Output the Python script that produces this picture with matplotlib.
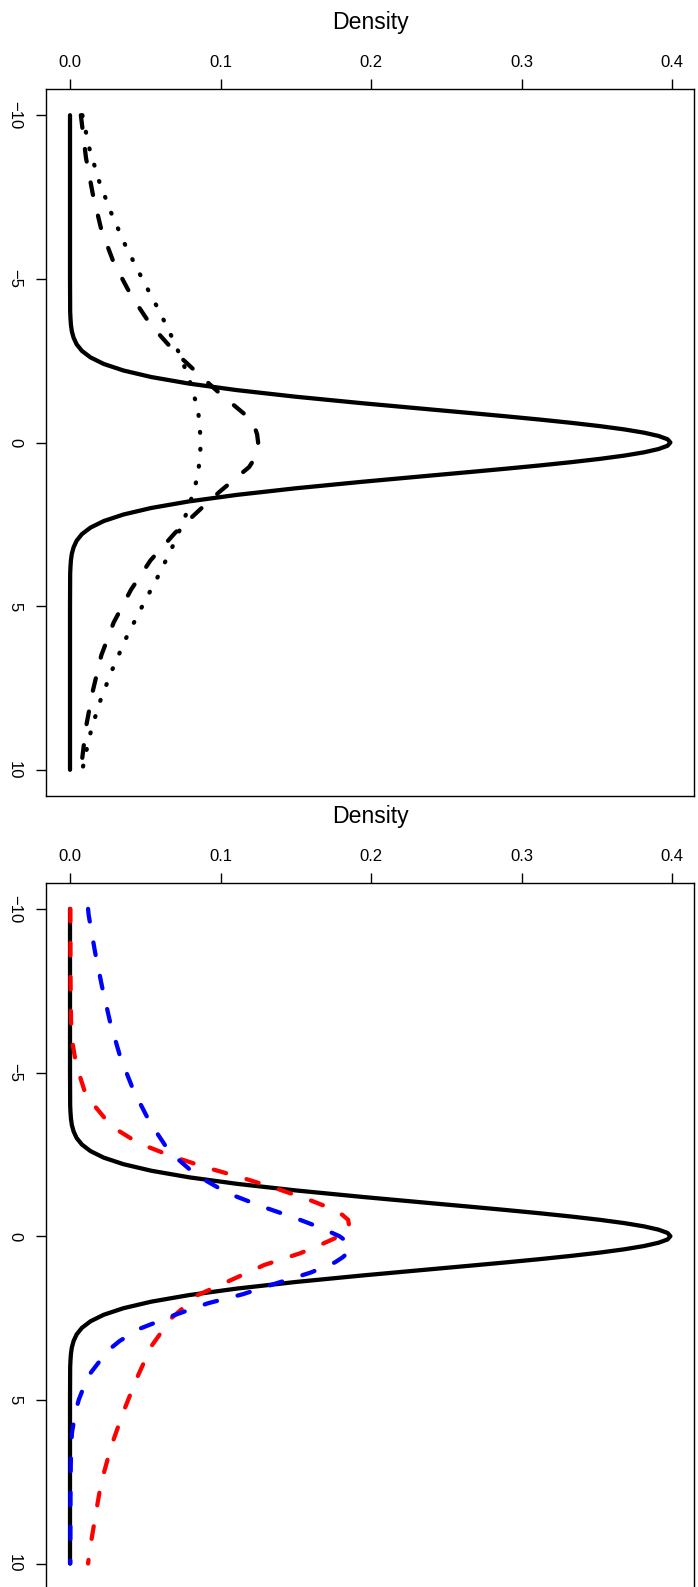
import matplotlib
matplotlib.use("Agg")
import matplotlib.pyplot as plt

plt.rcParams['font.family'] = ['Liberation Sans', 'DejaVu Sans']

# ---- densities, upper panel ----
norm_x = [-10, -5, -4.0, -3.8, -3.6, -3.4, -3.2, -3.0, -2.8, -2.6, -2.4, -2.2, -2.0,
          -1.8, -1.6, -1.4, -1.2, -1.0, -0.9, -0.8, -0.7, -0.6, -0.5, -0.4, -0.3,
          -0.2, -0.1, 0.0, 0.1, 0.2, 0.3, 0.4, 0.5, 0.6, 0.7, 0.8, 0.9, 1.0,
          1.2, 1.4, 1.6, 1.8, 2.0, 2.2, 2.4, 2.6, 2.8,
          3.0, 3.2, 3.4, 3.6, 3.8, 4.0, 5, 10]
norm_d = [0.0, 0.0, 0.0001, 0.0003, 0.0006, 0.0012, 0.0024, 0.0044, 0.0079, 0.0136,
          0.0224, 0.0355, 0.0540, 0.0790, 0.1109, 0.1497, 0.1942, 0.2420, 0.2661,
          0.2897, 0.3123, 0.3332, 0.3521, 0.3683, 0.3814, 0.3910, 0.3970, 0.3989,
          0.3970, 0.3910, 0.3814, 0.3683, 0.3521, 0.3332, 0.3123, 0.2897, 0.2661,
          0.2420, 0.1942, 0.1497, 0.1109, 0.0790,
          0.0540, 0.0355, 0.0224, 0.0136, 0.0079, 0.0044, 0.0024, 0.0012, 0.0006,
          0.0003, 0.0001, 0.0, 0.0]

dash_x = [-10, -8.7, -7.6, -6.5, -5.5, -4.5, -3.6, -2.75, -2.0, -1.5, -1.0, -0.75,
          -0.5, -0.25, 0.0, 0.25, 0.5, 0.75, 1.0, 1.5, 2.0, 2.75, 3.6, 4.5, 5.5,
          6.5, 7.6, 8.7, 10]
dash_d = [0.0072, 0.0106, 0.0151, 0.0208, 0.0290, 0.0405, 0.0535, 0.0700, 0.0875,
          0.0995, 0.1125, 0.1190, 0.1225, 0.1243, 0.1250, 0.1243, 0.1225, 0.1190,
          0.1125, 0.0995, 0.0875, 0.0700, 0.0535, 0.0405, 0.0290, 0.0208, 0.0151,
          0.0106, 0.0072]

dot_x = [-10, -9, -8, -7, -6, -5, -4, -3, -2, -1, 0, 1, 2, 3, 4, 5, 6, 7, 8, 9, 10]
dot_d = [0.0082, 0.0128, 0.0192, 0.0275, 0.0370, 0.0480, 0.0595, 0.0700, 0.0788,
         0.0851, 0.0870, 0.0851, 0.0788, 0.0700, 0.0595, 0.0480, 0.0370, 0.0275,
         0.0192, 0.0128, 0.0082]

# ---- densities, lower panel (skewed pair) ----
red_x = [-10, -8, -7, -6.4, -6, -5.4, -5, -4.3, -3.5, -3.2, -2.84, -2.45, -2.1,
         -1.79, -1.46, -1.11, -0.8, -0.65, -0.5, -0.3, -0.15, 0.0, 0.25, 0.52,
         0.88, 1.34, 1.8, 2.51, 3.37, 4.39, 5.41, 6.43, 7.55, 8.57, 9.68, 10]
red_d = [0.0002, 0.0003, 0.0005, 0.0008, 0.0013, 0.0035, 0.0058, 0.0106, 0.0250,
         0.0330, 0.0457, 0.0672, 0.0905, 0.1140, 0.1370, 0.1590, 0.1760, 0.1810,
         0.1848, 0.1855, 0.1835, 0.1790, 0.1670, 0.1530, 0.1290, 0.1070, 0.0848,
         0.0672, 0.0539, 0.0439, 0.0351, 0.0273, 0.0206, 0.0168, 0.0128, 0.0120]

blue_x = [-10, -9.81, -8.69, -7.62, -6.55, -5.49, -4.46, -3.5, -2.58, -1.87, -1.31,
          -0.9, -0.55, -0.25, 0.0, 0.15, 0.3, 0.5, 0.65, 0.8, 1.11, 1.44, 1.77,
          2.05, 2.41, 2.81, 3.2, 3.5, 4.29, 5.0, 5.4, 6.0, 6.43, 7, 8, 10]
blue_d = [0.0120, 0.0124, 0.0166, 0.0213, 0.0266, 0.0333, 0.0421, 0.0528, 0.0660,
          0.0838, 0.1050, 0.1280, 0.1500, 0.1670, 0.1790, 0.1835, 0.1855, 0.1848,
          0.1810, 0.1760, 0.1600, 0.1370, 0.1150, 0.0916, 0.0694, 0.0472, 0.0330,
          0.0250, 0.0118, 0.0058, 0.0035, 0.0013, 0.0008, 0.0005, 0.0003, 0.0002]

y_ticks = [-10, -5, 0, 5, 10]
x_ticks = [0.0, 0.1, 0.2, 0.3, 0.4]
x_tick_labels = ['0.0', '0.1', '0.2', '0.3', '0.4']

W, H = 698, 1587
fig = plt.figure(figsize=(W / 100, H / 100), dpi=100)

LW = 3.06  # curve width in points
px = lambda v: v / 100 * 72

def setup(ax):
    xmax = max(norm_d)
    ax.set_xlim(-0.04 * xmax, 1.04 * xmax)
    ax.set_ylim(10.8, -10.8)
    ax.xaxis.tick_top()
    ax.xaxis.set_label_position('top')
    ax.set_xticks(x_ticks)
    ax.set_xticklabels(x_tick_labels)
    ax.set_yticks(y_ticks)
    ax.set_yticklabels([str(v).replace('-', '\u2212') for v in y_ticks])
    ax.tick_params(axis='both', direction='out', length=px(10), width=1.0,
                   labelsize=12, colors='black')
    ax.tick_params(axis='x', pad=px(9))
    ax.tick_params(axis='y', pad=px(14), labelrotation=-90)
    for lab in ax.get_yticklabels():
        lab.set_va('center')
    ax.set_xlabel('Density', fontsize=16.6, labelpad=px(26))
    for s in ax.spines.values():
        s.set_linewidth(1.0)

def curve(ax, d, x, style, color='black'):
    ln, = ax.plot(d, x, color=color, lw=LW, solid_capstyle='round',
                  solid_joinstyle='round', dash_capstyle='round',
                  dash_joinstyle='round')
    if style == 'dashed':
        ln.set_dashes((3.0, 5.0))
    elif style == 'dotted':
        ln.set_dashes((0.2, 3.8))
    return ln

left = 46 / W
width = (694.4 - 46) / W
height = 707 / H

ax1 = fig.add_axes([left, (H - 796) / H, width, height])
setup(ax1)
curve(ax1, norm_d, norm_x, 'solid')
curve(ax1, dash_d, dash_x, 'dashed')
curve(ax1, dot_d, dot_x, 'dotted')

ax2 = fig.add_axes([left, (H - 1589.7) / H, width, height])
setup(ax2)
curve(ax2, norm_d, norm_x, 'solid')
curve(ax2, red_d, red_x, 'dashed', color='#ff0000')
curve(ax2, blue_d, blue_x, 'dashed', color='#0000ff')

fig.savefig('out.png', dpi=100)
